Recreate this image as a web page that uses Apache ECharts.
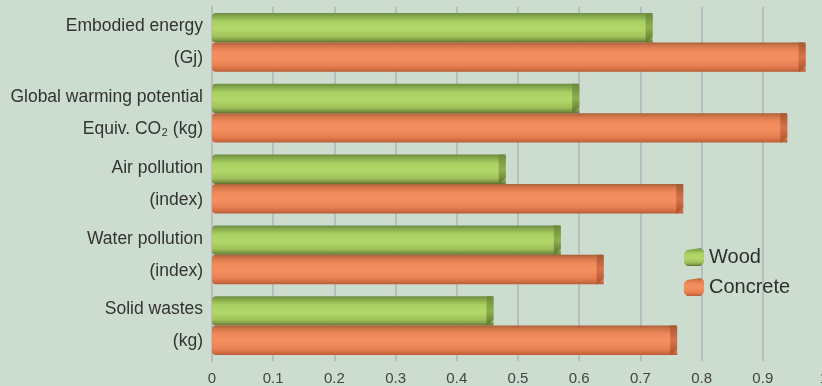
<!DOCTYPE html>
<html>
<head>
<meta charset="utf-8">
<script src="https://cdn.jsdelivr.net/npm/echarts@6/dist/echarts.min.js"></script>
<style>
  html, body { margin: 0; padding: 0; background: #ccdccf; }
  #chart { width: 822px; height: 386px; }
</style>
</head>
<body>
<div id="chart"></div>
<script>
// Impact categories (two-line axis labels) and values for each material
const categories = [
  'Embodied energy\n(Gj)',
  'Global warming potential\nEquiv. CO₂ (kg)',
  'Air pollution\n(index)',
  'Water pollution\n(index)',
  'Solid wastes\n(kg)'
];
const woodValues = [0.72, 0.60, 0.48, 0.57, 0.46];
const concreteValues = [0.97, 0.94, 0.77, 0.64, 0.76];
const tickLabels = ['0', '0.1', '0.2', '0.3', '0.4', '0.5', '0.6', '0.7', '0.8', '0.9', '1'];
const seriesNames = ['Wood', 'Concrete'];

const FONT = '"Liberation Sans", Arial, sans-serif';
const CATEGORY_GAP = 0.17;

const grad = (stops) => new echarts.graphic.LinearGradient(0, 0, 0, 1,
  stops.map(([offset, color]) => ({ offset, color })));

const woodFill = grad([
  [0, '#6e8c44'], [0.12, '#88ab4c'], [0.3, '#a9d062'],
  [0.55, '#b3d86a'], [0.8, '#a0c25a'], [0.92, '#7f9a44'], [1, '#5f6e30']
]);
const concreteFill = grad([
  [0, '#a9603a'], [0.12, '#d6774a'], [0.3, '#f08a5c'],
  [0.55, '#f4905f'], [0.8, '#e77f52'], [0.92, '#d06c42'], [1, '#b85c38']
]);
const capFills = [
  grad([[0, '#6c8a3c'], [0.5, '#8fb04e'], [1, '#5d7530']]),
  grad([[0, '#a55a34'], [0.5, '#d8724a'], [1, '#a9552f']])
];

// Bevelled end of each bar, placed with the same band geometry as the bars
const capData = [];
woodValues.forEach((v, i) => capData.push([v, i, 0]));
concreteValues.forEach((v, i) => capData.push([v, i, 1]));

function renderCap(params, api) {
  const v = api.value(0);
  const cat = api.value(1);
  const s = api.value(2);
  const p = api.coord([v, cat]);
  const band = api.size([0, 1])[1];
  const bw = band * (1 - CATEGORY_GAP) / 2;
  const top = p[1] - bw + s * bw;
  const bottom = top + bw;
  const x = p[0];
  return {
    type: 'polygon',
    shape: {
      points: [
        [x - 7, top], [x - 1, top], [x, top + 2],
        [x, bottom - 6], [x - 6, bottom], [x - 7, bottom]
      ]
    },
    style: { fill: capFills[s] }
  };
}

const chart = echarts.init(document.getElementById('chart'), null, { renderer: 'canvas' });
chart.setOption({
  backgroundColor: '#ccdccf',
  animation: false,
  grid: {
    left: 212, right: -2, top: 7, bottom: 25,
    containLabel: false, outerBoundsMode: 'none'
  },
  legend: {
    data: seriesNames,
    orient: 'vertical',
    left: 679,
    top: 242,
    itemWidth: 20,
    itemHeight: 18,
    itemGap: 10,
    icon: 'path://M3,2 L17,0 L20,3 L20,14 L17,18 L3,18 L0,15 L0,5 Z',
    textStyle: { fontFamily: FONT, fontSize: 20, color: '#2e2e2e' }
  },
  xAxis: {
    type: 'value',
    min: 0,
    max: 1,
    interval: 0.1,
    axisLine: { show: false },
    axisTick: { show: false },
    splitLine: { show: true, lineStyle: { color: '#b9bdc1', width: 2 } },
    axisLabel: {
      fontFamily: FONT, fontSize: 15, color: '#444', margin: 10,
      formatter: (v) => tickLabels[Math.round(v * 10)]
    }
  },
  yAxis: {
    type: 'category',
    data: categories,
    inverse: true,
    axisLine: { show: true, lineStyle: { color: '#b9bdc1', width: 2 } },
    axisTick: { show: false },
    axisLabel: {
      fontFamily: FONT, fontSize: 17.5, color: '#333', lineHeight: 32, margin: 9, align: 'right'
    }
  },
  series: [
    {
      name: 'Wood',
      type: 'bar',
      data: woodValues,
      barGap: '0%',
      barCategoryGap: (CATEGORY_GAP * 100) + '%',
      itemStyle: { color: woodFill, borderRadius: [4, 0, 0, 4] }
    },
    {
      name: 'Concrete',
      type: 'bar',
      data: concreteValues,
      barGap: '0%',
      barCategoryGap: (CATEGORY_GAP * 100) + '%',
      itemStyle: { color: concreteFill, borderRadius: [4, 0, 0, 4] }
    },
    {
      type: 'custom',
      renderItem: renderCap,
      data: capData,
      encode: { x: 0, y: 1 },
      z: 3,
      silent: true
    }
  ]
});
</script>
</body>
</html>
